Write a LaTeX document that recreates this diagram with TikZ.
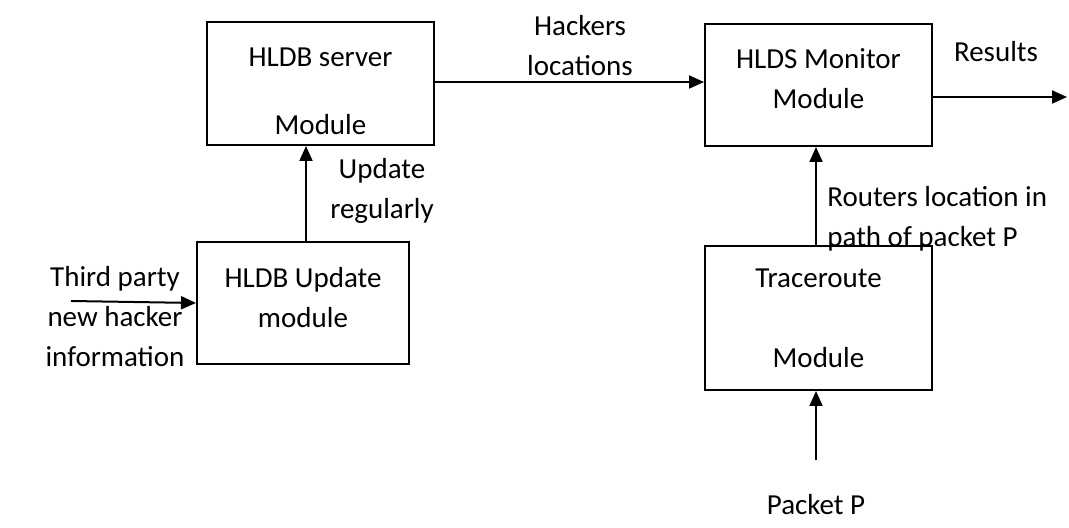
\documentclass[tikz,border=0pt]{standalone}
\usepackage{fontspec}
\setmainfont{Carlito}
\usetikzlibrary{arrows.meta}

\begin{document}
\begin{tikzpicture}[
  x=0.5pt, y=-0.5pt,
  font=\fontsize{14.5}{20}\selectfont,
  module/.style={draw,line width=1pt,align=center,inner sep=0pt},
  lbl/.style={align=center,inner sep=0pt},
  link/.style={line width=1pt,-{Triangle[length=7.5pt,width=6.5pt]}}]
\useasboundingbox (0,0) rectangle (1069,528);
% modules
\node[module,minimum width=113.5pt,minimum height=61.5pt] (srv) at (320.5,83.5) {\rule{0pt}{17.3pt}HLDB server\\[14pt]Module};
\node[module,minimum width=106pt,minimum height=61pt] (upd) at (303,303) {HLDB Update\\module\rule[-6pt]{0pt}{6pt}};
\node[module,minimum width=113.5pt,minimum height=61pt] (mon) at (818.5,85) {HLDS Monitor\\Module\rule[-6pt]{0pt}{6pt}};
\node[module,minimum width=113.5pt,minimum height=72pt] (trc) at (818.5,318) {Traceroute\\[20pt]Module};
% free ends
\coordinate (src) at (71,301);
\coordinate (res) at (1067,97);
\coordinate (pkt) at (816,460);
% connectors
\draw[link] (src) -- (upd.west);
\draw[link] ([xshift=1.5pt]upd.north) -- ([xshift=1.5pt]upd.north |- srv.south);
\draw[link] ([yshift=0.75pt]srv.east) -- ([yshift=0.75pt]srv.east -| mon.west);
\draw[link] (res -| mon.east) -- (res);
\draw[link] ([xshift=-1.25pt]trc.north) -- ([xshift=-1.25pt]trc.north |- mon.south);
\draw[link] (pkt) -- (pkt |- trc.south);
% labels
\node[lbl] (srclbl) at (115,317) {Third party\\new hacker\\information};
\node[lbl] (updlbl) at (382,191) {Update\\regularly};
\node[lbl] (hlclbl) at (580,46) {Hackers\\locations};
\node[lbl] (reslbl) at (996,52) {Results};
\node[lbl,anchor=west,align=left] (rtrlbl) at (827,219) {Routers location in\\path of packet P};
\node[lbl] (pktlbl) at (816,505) {Packet P};
\end{tikzpicture}
\end{document}
